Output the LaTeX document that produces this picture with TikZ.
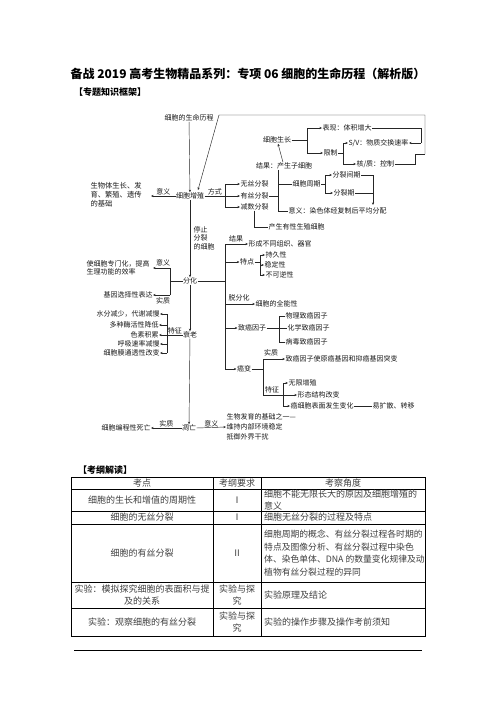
\documentclass[tikz,border=0pt]{standalone}
\usepackage{fontspec}
\setmainfont{Noto Sans CJK SC}
\usetikzlibrary{arrows.meta}
\begin{document}
\begin{tikzpicture}[x=1pt,y=-1pt,
  t/.style={font=\fontsize{7}{8.5}\selectfont, inner sep=0.3pt, text=black!90},
  tl/.style={t, align=left},
  tb/.style={font=\fontsize{9}{12.5}\selectfont, inner sep=0pt, text=black!75},
  ln/.style={line width=0.45pt, black!85},
  ar/.style={ln, -{Stealth[length=2.6pt,width=2.2pt]}},
  lab/.style={t, above=0.3pt}]
\useasboundingbox (0,0) rectangle (496,702);
\fill[white] (0,0) rectangle (496,702);

% headings
\node[font=\fontsize{12}{14}\selectfont\bfseries, inner sep=0pt] (title) at (248,74) {备战 2019 高考生物精品系列：专项 06 细胞的生命历程（解析版）};
\node[font=\fontsize{9}{11}\selectfont\bfseries, inner sep=0pt, anchor=west] (h1) at (74,92) {【专题知识框架】};
\node[font=\fontsize{9}{11}\selectfont\bfseries, inner sep=0pt, anchor=west] (h2) at (78,470) {【考纲解读】};

% ---------- diagram nodes ----------
\node[t] (life) at (189,118) {细胞的生命历程};
\node[t] (prolif) at (190,196) {细胞增殖};
\node[tl, anchor=west, font=\fontsize{7.3}{9}\selectfont] (base) at (90,195) {生物体生长、发\\育、繁殖、遗传\\的基础};
\node[t, anchor=west] (wusi) at (240,184) {无丝分裂};
\node[t, anchor=west] (yousi) at (240,196) {有丝分裂};
\node[t, anchor=west] (jianshu) at (240,207) {减数分裂};
\node[t] (growth) at (277,140) {细胞生长};
\node[t] (result) at (284,166) {结果：产生子细胞};
\node[t, anchor=west] (cycle) at (292,184) {细胞周期};
\node[t, anchor=west] (meaning) at (288,211) {意义：染色体经复制后平均分配};
\node[t, anchor=west] (interph) at (332,175) {分裂间期};
\node[t, anchor=west] (mphase) at (333,193) {分裂期};
\node[t, anchor=west] (sex) at (268,227) {产生有性生殖细胞};
\node[t, anchor=west] (biaoxian) at (322,128) {表现：体积增大};
\node[t, anchor=west] (limit) at (323,153) {限制};
\node[t, anchor=west] (sv) at (348,143) {S/V：物质交换速率};
\node[t, anchor=west] (hz) at (356,164) {核/质：控制};

\node[t] (diff) at (190,281) {分化};
\node[tl, anchor=west, font=\fontsize{7}{8.6}\selectfont] (stop) at (193,238) {停止\\分裂\\的细胞};
\node[t, anchor=west] (tissue) at (248,244) {形成不同组织、器官};
\node[t] (feat) at (247,262) {特点};
\node[t, anchor=west] (p1) at (265,255) {持久性};
\node[t, anchor=west] (p2) at (264,265) {稳定性};
\node[t, anchor=west] (p3) at (265,275) {不可逆性};
\node[t, anchor=west] (totip) at (255,304) {细胞的全能性};
\node[t] (carc) at (252,328) {致癌因子};
\node[t, anchor=west] (c1) at (285,316) {物理致癌因子};
\node[t, anchor=west] (c2) at (287,328) {化学致癌因子};
\node[t, anchor=west] (c3) at (285,342) {病毒致癌因子};
\node[t] (cancer) at (244,369) {癌变};
\node[t, anchor=west] (mut) at (285,359) {致癌因子使原癌基因和抑癌基因突变};
\node[t, anchor=west] (f1) at (288,383) {无限增殖};
\node[t, anchor=west] (f2) at (297,395) {形态结构改变};
\node[t, anchor=west] (f3) at (290,406) {癌细胞表面发生变化};
\node[t, anchor=west] (f4) at (372,406) {易扩散、转移};

\node[tl, anchor=west, font=\fontsize{7}{8}\selectfont] (spec) at (86,268) {使细胞专门化，提高\\生理功能的效率};
\node[t, anchor=east] (gene) at (153,295) {基因选择性表达};
\node[t] (age) at (190,335) {衰老};
\node[t, anchor=east] (a1) at (160,314) {水分减少，代谢减慢};
\node[t, anchor=east] (a2) at (159,325) {多种酶活性降低};
\node[t, anchor=east] (a3) at (159,335) {色素积累};
\node[t, anchor=east] (a4) at (160,344) {呼吸速率减慢};
\node[t, anchor=east] (a5) at (160,353) {细胞膜通透性改变};
\node[t] (apop) at (189,428) {凋亡};
\node[t, anchor=east] (pcd) at (151,428) {细胞编程性死亡};
\node[tl, anchor=west, font=\fontsize{7}{10}\selectfont] (apmean) at (226,427) {生物发育的基础之一—\\维持内部环境稳定\\抵御外界干扰};

% ---------- connectors ----------
\draw[ar] (life) -- (prolif);
\coordinate (tl) at (219,115);
\coordinate (tr) at (425,115);
\coordinate (br) at (425,154);
\coordinate (pin) at (198,190);
\draw[ar] (br) -- (tr) -- (tl) -- (pin);
\draw[ln] (hz.east) -- (415,164) -- (415,154) -- (br);
\draw[ln] (biaoxian.east) -- (421,128) -- (421,143);
\draw[ar] (421,143) -- (sv.east);

\coordinate (baseend) at (151,196);
\draw[ar] (prolif.west) -- (baseend) node[lab, midway] {意义};
\coordinate (fs) at (225,196);
\draw[ln] (prolif.east) -- (fs) node[lab, midway] {方式};
\draw[ln] (225,184) -- (225,207);
\draw[ar] (wusi.west -| fs) -- (wusi.west);
\draw[ar] (yousi.west -| fs) -- (yousi.west);
\draw[ar] (jianshu.west -| fs) -- (jianshu.west);

\coordinate (vx) at (278,196);
\draw[ln] (yousi.east) -- (vx);
\draw[ar] (result) -- (growth);
\draw[ln] (result.south -| vx) -- (meaning.west -| vx) -- (meaning.west);
\draw[ln] (cycle.west -| vx) -- (cycle.west);
\coordinate (cb) at (325,184);
\draw[ln] (cycle.east) -- (cb);
\draw[ln] (interph.west -| cb) -- (mphase.west -| cb);
\draw[ar] (interph.west -| cb) -- (interph.west);
\draw[ar] (mphase.west -| cb) -- (mphase.west);
\coordinate (pj) at (373,175);
\coordinate (pe) at (373,205);
\draw[ln] (interph.east) -- (pj);
\draw[ln] (mphase.east) -- (mphase.east -| pj);
\draw[ar] (pj) -- (pe);
\draw[ln] (jianshu.south -| 254,0) -- (254,227) -- (sex.west);

\coordinate (gb) at (307,140);
\draw[ln] (growth.east) -- (gb);
\draw[ln] (biaoxian.west -| gb) -- (limit.west -| gb);
\draw[ar] (biaoxian.west -| gb) -- (biaoxian.west);
\draw[ar] (limit.west -| gb) -- (limit.west);
\coordinate (lb) at (343,153);
\draw[ln] (limit.east) -- (lb);
\draw[ln] (sv.west -| lb) -- (hz.west -| lb);
\draw[ar] (sv.west -| lb) -- (sv.west);
\draw[ar] (hz.west -| lb) -- (hz.west);

\draw[ar] (prolif) -- (diff);
\coordinate (dv) at (225,281);
\draw[ln] (diff.east) -- (dv);
\draw[ln] (225,244) -- (225,369);
\draw[ar] (tissue.west -| dv) -- (tissue.west);
\node[t] (lres) at (236,239) {结果};
\draw[ar] (feat.west -| dv) -- (feat.west);
\draw[ar] (totip.west -| dv) -- (totip.west);
\node[t] (ldd) at (239,298) {脱分化};
\draw[ar] (carc.west -| dv) -- (carc.west);
\draw[ar] (cancer.west -| dv) -- (cancer.west);

\coordinate (fb) at (260,262);
\draw[ln] (feat.east) -- (fb);
\draw[ln] (p1.west -| fb) -- (p3.west -| fb);
\draw[ar] (p1.west -| fb) -- (p1.west);
\draw[ar] (p2.west -| fb) -- (p2.west);
\draw[ar] (p3.west -| fb) -- (p3.west);

\coordinate (kb) at (279,328);
\draw[ln] (carc.east) -- (kb);
\draw[ln] (c1.west -| kb) -- (c3.west -| kb);
\draw[ln] (c1.west -| kb) -- (c1.west);
\draw[ln] (c2.west -| kb) -- (c2.west);
\draw[ln] (c3.west -| kb) -- (c3.west);

\coordinate (xb) at (263,369);
\draw[ln] (cancer.east) -- (xb);
\draw[ln] (mut.west -| xb) -- (263,395);
\draw[ar] (mut.west -| xb) -- (mut.west);
\node[t] (lsz) at (271,353) {实质};
\coordinate (tz) at (283,395);
\draw[ln] (263,395) -- (tz);
\node[t] (ltz) at (272,390) {特征};
\draw[ln] (f1.west -| tz) -- (f3.west -| tz);
\draw[ar] (f1.west -| tz) -- (f1.west);
\draw[ar] (f2.west -| tz) -- (f2.west);
\draw[ar] (f3.west -| tz) -- (f3.west);
\draw[ln] (f3.east) -- (f4.west);

\coordinate (sb) at (170,281);
\coordinate (specend) at (153,268);
\draw[ln] (diff.west) -- (sb);
\draw[ln] (170,268) -- (170,295);
\draw[ar] (170,268) -- (specend);
\draw[ar] (gene.east -| sb) -- (gene.east);
\node[t] (lyy) at (163,262.5) {意义};
\node[t] (lsz2) at (163,300.5) {实质};

\draw[ar] (diff) -- (age);
\coordinate (ab) at (167,335);
\draw[ln] (age.west) -- (ab) node[lab, midway] {特征};
\draw[ln] (a1.east -| ab) -- (a5.east -| ab);
\foreach \n in {a1,a2,a3,a4,a5} \draw[ar] (\n.east -| ab) -- (\n.east);

\draw[ar] (age) -- (apop);
\draw[ar] (apop.west) -- (pcd.east) node[lab, midway] {实质};
\draw[ar] (apop.east) -- (apmean.west) node[lab, midway] {意义};

% ---------- table ----------
\def\ya{477}\def\yb{489}\def\yc{511}\def\yd{524}\def\ye{582}\def\yf{608}\def\yg{636}
\draw[line width=0.8pt] (71,\ya) rectangle (425,\yg);
\foreach \yy in {\yb,\yc,\yd,\ye,\yf} \draw[line width=0.6pt] (71,\yy) -- (425,\yy);
\draw[line width=0.6pt] (213,\ya) -- (213,\yg);
\draw[line width=0.6pt] (261,\ya) -- (261,\yg);

\node[tb] (r1a) at (142,483) {考点};
\node[tb] (r1b) at (237,483) {考纲要求};
\node[tb] (r1c) at (343,483) {考察角度};
\node[tb] (r2a) at (142,500) {细胞的生长和增值的周期性};
\node[tb] (r2b) at (237,500) {Ⅰ};
\node[tb, anchor=west, align=left] (r2c) at (264,500) {细胞不能无限长大的原因及细胞增殖的\\意义};
\node[tb] (r3a) at (142,517.5) {细胞的无丝分裂};
\node[tb] (r3b) at (237,517.5) {Ⅰ};
\node[tb, anchor=west] (r3c) at (264,517.5) {细胞无丝分裂的过程及特点};
\node[tb] (r4a) at (142,553) {细胞的有丝分裂};
\node[tb] (r4b) at (237,553) {Ⅱ};
\node[tb, anchor=west, align=left, font=\fontsize{8.8}{12.6}\selectfont] (r4c) at (264,553) {细胞周期的概念、有丝分裂过程各时期的\\特点及图像分析、有丝分裂过程中染色\\体、染色单体、DNA 的数量变化规律及动\\植物有丝分裂过程的异同};
\node[tb, align=center] (r5a) at (142,595) {实验：模拟探究细胞的表面积与提\\及的关系};
\node[tb, align=center] (r5b) at (237,595) {实验与探\\究};
\node[tb, anchor=west] (r5c) at (264,595) {实验原理及结论};
\node[tb] (r6a) at (142,622) {实验：观察细胞的有丝分裂};
\node[tb, align=center] (r6b) at (237,622) {实验与探\\究};
\node[tb, anchor=west] (r6c) at (264,622) {实验的操作步骤及操作考前须知};

\draw[line width=0.9pt] (74,650) -- (422,650);
\end{tikzpicture}
\end{document}
